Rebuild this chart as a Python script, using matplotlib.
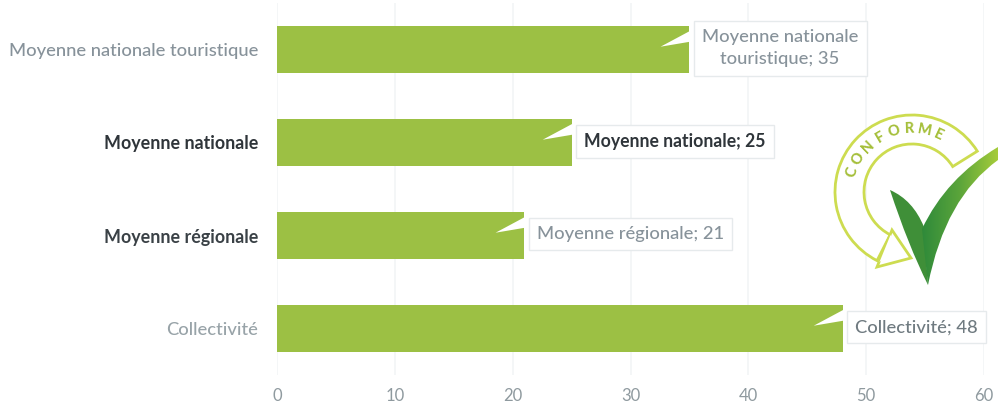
import numpy as np
import matplotlib
matplotlib.use("Agg")
import matplotlib.pyplot as plt
from matplotlib.colors import LinearSegmentedColormap
from matplotlib.patches import Polygon, Wedge, PathPatch
from matplotlib.path import Path

plt.rcParams['font.family'] = ['Lato', 'DejaVu Sans']

categories = ["Moyenne nationale touristique", "Moyenne nationale",
              "Moyenne régionale", "Collectivité"]
values = [35, 25, 21, 48]
point_labels = ["Moyenne nationale\ntouristique; 35", "Moyenne nationale; 25",
                "Moyenne régionale; 21", "Collectivité; 48"]
category_colors = ["#87929a", "#2f353a", "#3a4146", "#98a3a8"]
category_weights = ["medium", "bold", "bold", "medium"]
category_sizes = [13.2, 12.9, 12.9, 13.2]
label_colors = ["#87929a", "#2f353a", "#87929a", "#6f7a80"]
label_weights = ["medium", "bold", "medium", "medium"]
label_sizes = [13.2, 12.7, 13.2, 13.2]
x_ticks = [0, 10, 20, 30, 40, 50, 60]

W, H = 998, 405
fig = plt.figure(figsize=(W / 100, H / 100), dpi=100, facecolor="white")
ax = fig.add_axes([277 / W, 1 - 375 / H, (984 - 277) / W, (375 - 3) / H])

y = np.arange(len(categories))
ax.barh(y, values, height=0.51, color="#9cc044", zorder=2)
ax.set_xlim(0, 60)
ax.set_ylim(3.5, -0.5)
ax.set_xticks(x_ticks)
ax.set_yticks(y)
ax.set_yticklabels(categories)
for tick, color, weight, size in zip(ax.get_yticklabels(), category_colors,
                                     category_weights, category_sizes):
    tick.set_color(color)
    tick.set_fontweight(weight)
    tick.set_fontsize(size)
ax.tick_params(axis="y", length=0, pad=13.5)
ax.tick_params(axis="x", length=0, pad=9.5, labelsize=12, labelcolor="#8f9a9f")
ax.grid(axis="x", color="#f1f4f5", linewidth=1.1, zorder=0)
ax.set_axisbelow(True)
for spine in ax.spines.values():
    spine.set_visible(False)

# Callout pointers cut into the bar ends, then the boxed data labels
for yi, v, text, color, weight, size in zip(y, values, point_labels, label_colors,
                                            label_weights, label_sizes):
    ax.add_patch(Polygon([[v + 0.35, yi - 0.22], [v - 2.45, yi - 0.03], [v + 0.35, yi - 0.09]],
                         closed=True, facecolor="white", edgecolor="none", zorder=3))
    ax.annotate(text, xy=(v, yi), xytext=(9, 1), textcoords="offset points",
                ha="left", va="center", fontsize=size, color=color, fontweight=weight,
                linespacing=1.5, multialignment="center", zorder=4,
                bbox=dict(boxstyle="square,pad=0.45", facecolor="white",
                          edgecolor="#e6eaec", linewidth=1))

# "Conforme" badge, laid out on a pixel-sized overlay (y grows downward)
overlay = fig.add_axes([0, 0, 1, 1], facecolor="none")
overlay.set_xlim(0, W)
overlay.set_ylim(H, 0)
overlay.axis("off")

cx, cy = 912, 192
lime = "#cddc50"
overlay.add_patch(Wedge((cx, cy), 77, 117, 328, width=29, facecolor="white",
                        edgecolor=lime, linewidth=2, zorder=5))
overlay.add_patch(Polygon([(892, 230), (911, 258), (877, 267)], closed=True,
                          facecolor="white", edgecolor=lime, linewidth=2, zorder=6))
# hide the seam between the band and the arrow head
overlay.add_patch(Polygon([(890.5, 235), (879.5, 262), (886, 258), (893, 240)], closed=True,
                          facecolor="white", edgecolor="none", zorder=7))

word = "CONFORME"
angles = np.linspace(162, 65, len(word))
for ch, a in zip(word, angles):
    r = np.deg2rad(a)
    overlay.text(cx + 63 * np.cos(r), cy - 63 * np.sin(r), ch, rotation=a - 90,
                 ha="center", va="center", fontsize=10.5, fontweight="black",
                 color="#a5bf3a", zorder=8)

# Tick mark: dark left stroke, right stroke fading to a lighter green
curve3 = Path.CURVE3
left_stroke = Path([(890, 190), (913, 200), (924, 227), (928, 285), (908, 245), (890, 190), (890, 190)],
                   [Path.MOVETO, curve3, curve3, Path.LINETO, curve3, curve3, Path.CLOSEPOLY])
right_stroke = Path([(922, 229), (946, 178), (998, 147), (998, 160), (945, 198), (928, 285), (922, 229)],
                    [Path.MOVETO, curve3, curve3, Path.LINETO, curve3, curve3, Path.CLOSEPOLY])
overlay.add_patch(PathPatch(left_stroke, facecolor="#3f8f38", edgecolor="none", zorder=9))
fade = LinearSegmentedColormap.from_list("tick_fade", ["#2f8a3a", "#5ba53a", "#a6cc3a"])
image = overlay.imshow(np.linspace(0, 1, 128).reshape(1, -1), cmap=fade, aspect="auto",
                       extent=(922, 998, 285, 147), zorder=9)
image.set_clip_path(PathPatch(right_stroke, transform=overlay.transData))
overlay.set_xlim(0, W)
overlay.set_ylim(H, 0)

fig.savefig("out.png", dpi=100, facecolor="white")
